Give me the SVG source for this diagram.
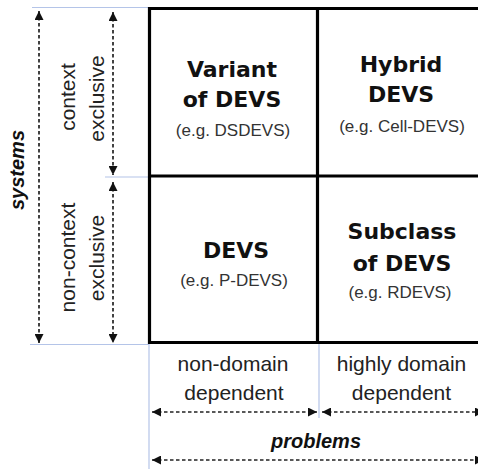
<svg xmlns="http://www.w3.org/2000/svg" width="478" height="469" viewBox="0 0 478 469">
<defs>
<style>
.grid{fill:none;stroke:#000;stroke-width:3.2}
.guide{stroke:#b4c4e8;stroke-width:1.2;fill:none}
.arr{stroke:#222;stroke-width:1.7;stroke-dasharray:3.5 2.5;fill:none}
.title{font-family:"DejaVu Sans",sans-serif;font-weight:bold;font-size:22px;fill:#111;text-anchor:middle}
.eg{font-family:"Liberation Sans",Arial,sans-serif;font-size:17px;fill:#333;text-anchor:middle}
.lbl{font-family:"Liberation Sans",Arial,sans-serif;font-size:21px;fill:#222;text-anchor:middle}
.axis{font-family:"Liberation Sans",Arial,sans-serif;font-weight:bold;font-style:italic;font-size:20px;fill:#111;text-anchor:middle}
</style>
<marker id="ah" viewBox="0 0 10 10" refX="10" refY="5" markerWidth="10" markerHeight="9" markerUnits="userSpaceOnUse" orient="auto-start-reverse">
<path d="M0,0 L10,5 L0,10 Z" fill="#111"/>
</marker>
</defs>
<rect width="478" height="469" fill="#fff"/>
<g id="guides">
<line class="guide" x1="32" y1="7.5" x2="149" y2="7.5"/>
<line class="guide" x1="105" y1="177" x2="149" y2="177"/>
<line class="guide" x1="30" y1="344.5" x2="149" y2="344.5"/>
<line class="guide" x1="149" y1="344" x2="149" y2="469"/>
<line class="guide" x1="319" y1="344" x2="319" y2="418"/>
</g>
<g id="grid">
<path class="grid" d="M492,8.5 H149.5 V342.5 H492 M149.5,176 H492 M317.5,8.5 V342.5"/>
</g>
<g id="cell-variant">
<text class="title" x="232" y="77">Variant</text>
<text class="title" x="232" y="107">of DEVS</text>
<text class="eg" x="233" y="136">(e.g. DSDEVS)</text>
</g>
<g id="cell-hybrid">
<text class="title" x="401" y="72">Hybrid</text>
<text class="title" x="401" y="102">DEVS</text>
<text class="eg" x="402" y="132">(e.g. Cell-DEVS)</text>
</g>
<g id="cell-devs">
<text class="title" x="236" y="258">DEVS</text>
<text class="eg" x="234" y="286">(e.g. P-DEVS)</text>
</g>
<g id="cell-subclass">
<text class="title" x="402" y="239">Subclass</text>
<text class="title" x="402" y="271">of DEVS</text>
<text class="eg" x="400" y="298">(e.g. RDEVS)</text>
</g>
<g id="connectors">
<line class="arr" x1="39" y1="11" x2="39" y2="343" marker-start="url(#ah)" marker-end="url(#ah)"/>
<line class="arr" x1="113" y1="12" x2="113" y2="175" marker-start="url(#ah)" marker-end="url(#ah)"/>
<line class="arr" x1="113" y1="182" x2="113" y2="343" marker-start="url(#ah)" marker-end="url(#ah)"/>
<line class="arr" x1="152" y1="412" x2="317" y2="412" marker-start="url(#ah)" marker-end="url(#ah)"/>
<line class="arr" x1="322" y1="412" x2="484" y2="412" marker-start="url(#ah)" marker-end="url(#ah)"/>
<line class="arr" x1="152" y1="460" x2="484" y2="460" marker-start="url(#ah)" marker-end="url(#ah)"/>
</g>
<g id="labels">
<text class="lbl" transform="translate(75,97) rotate(-90)">context</text>
<text class="lbl" transform="translate(104,98.5) rotate(-90)">exclusive</text>
<text class="lbl" transform="translate(75,257.5) rotate(-90)">non-context</text>
<text class="lbl" transform="translate(104,258) rotate(-90)">exclusive</text>
<text class="axis" transform="translate(24,170) rotate(-90)">systems</text>
<text class="lbl" x="233" y="371">non-domain</text>
<text class="lbl" x="234" y="400">dependent</text>
<text class="lbl" x="401.5" y="371">highly domain</text>
<text class="lbl" x="401.5" y="400">dependent</text>
<text class="axis" x="316" y="448">problems</text>
</g>
</svg>
